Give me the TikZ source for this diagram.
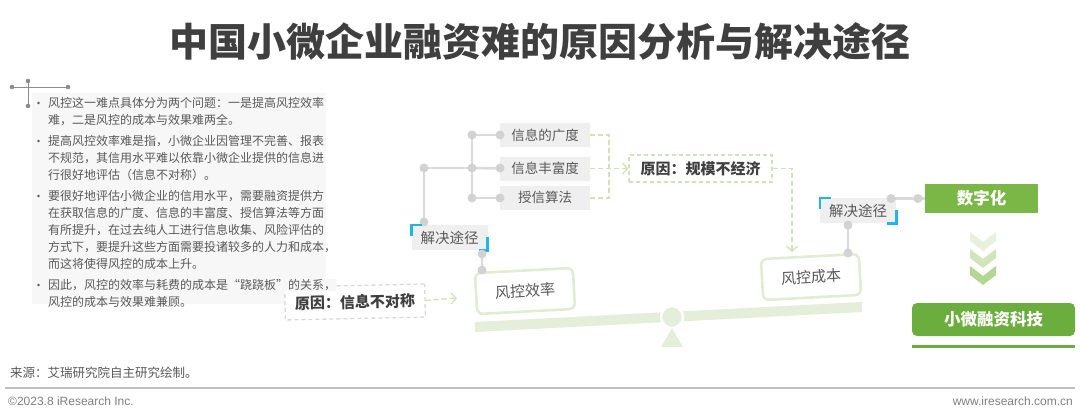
\documentclass[tikz,border=0pt]{standalone}
\usepackage{fontspec}
\setmainfont{Noto Sans CJK SC}
\newfontfamily\latinfont{Liberation Sans}
\usetikzlibrary{arrows.meta}
\definecolor{txt}{HTML}{595959}
\definecolor{ttl}{HTML}{3F3F3F}
\definecolor{panel}{HTML}{F7F7F7}
\definecolor{tline}{HTML}{DADADA}
\definecolor{tdot}{HTML}{D2D2D2}
\definecolor{tbg}{HTML}{EFEFEF}
\definecolor{cyanb}{HTML}{22B4E6}
\definecolor{beamc}{HTML}{E4EED8}
\definecolor{boxb}{HTML}{E1EDD3}
\definecolor{gdashc}{HTML}{CFE3BA}
\definecolor{graydash}{HTML}{D8D8D8}
\definecolor{greenA}{HTML}{7AB746}
\definecolor{greenB}{HTML}{6BAE3E}
\definecolor{chevA}{HTML}{E7F1DB}
\definecolor{chevB}{HTML}{D0E5B9}
\definecolor{chevC}{HTML}{B3D692}
\definecolor{foot}{HTML}{7F7F7F}
\definecolor{deco}{HTML}{8C8C8C}
\tikzset{
  para/.style={anchor=west, inner sep=0pt, text=txt, font=\fontsize{12}{12}\selectfont},
  tbox/.style={fill=tbg, minimum width=90pt, minimum height=24pt, inner sep=0pt, text=txt, font=\fontsize{13.5}{13.5}\selectfont},
  lbl/.style={fill=tbg, minimum width=76pt, minimum height=25pt, inner sep=0pt, text=txt, font=\fontsize{14.5}{14.5}\selectfont},
  treeline/.style={draw=tline, line width=2.6pt},
  bracket/.style={draw=cyanb, line width=2.6pt},
  gbox/.style={draw=boxb, line width=2.6pt, rounded corners=6pt, fill=white, minimum width=98pt, minimum height=41pt, inner sep=0pt, text=txt, font=\fontsize{15}{15}\selectfont},
  rbox/.style={draw=gdashc, dash pattern=on 4pt off 3pt, line width=1.3pt, fill=white, inner sep=0pt, text=ttl, font=\fontsize{15}{15}\selectfont\bfseries},
  gdash/.style={draw=gdashc, dash pattern=on 5pt off 3pt, line width=1.4pt},
  barb/.style={-{Straight Barb[length=5pt,width=11pt,line width=1.3pt]}},
  greenbox/.style={text=white, inner sep=0pt, font=\fontsize{16.5}{16.5}\selectfont\bfseries},
  footst/.style={inner sep=0pt, text=foot}
}
\begin{document}
\begin{tikzpicture}[x=1pt,y=-1pt]
\useasboundingbox (0,0) rectangle (1080,415);

% title
\node[inner sep=0pt, text=ttl, font=\fontsize{39}{39}\selectfont\bfseries] (title) at (540,41) {中国小微企业融资难的原因分析与解决途径};

% left panel
\fill[panel] (32,93) rectangle (326,304);
\draw[deco, line width=1pt] (12,87) -- (68,87);
\draw[deco, line width=1pt] (28,81) -- (28,106);
\foreach \p in {(12,87),(28,81),(68,87),(28,106)} \fill[deco] \p circle (2.3pt);

% reason box under the last bullet lines
\node[rbox, draw=graydash, rotate=1.2, minimum width=140pt, minimum height=33pt] (r1) at (355,302) {原因：信息不对称};
\coordinate (a1) at (457,298);
\draw[gdash, barb] (r1.east) -- (a1);

\foreach \yy in {103,141,196,285} \fill[txt] (38.5,\yy) circle (1.4pt);
\node[para] (l1) at (48,103) {风控这一难点具体分为两个问题：一是提高风控效率};
\node[para] (l2) at (48,120) {难，二是风控的成本与效果难两全。};
\node[para] (l3) at (48,141) {提高风控效率难是指，小微企业因管理不完善、报表};
\node[para] (l4) at (48,158) {不规范，其信用水平难以依靠小微企业提供的信息进};
\node[para] (l5) at (48,175) {行很好地评估（信息不对称）。};
\node[para] (l6) at (48,196) {要很好地评估小微企业的信用水平，需要融资提供方};
\node[para] (l7) at (48,213) {在获取信息的广度、信息的丰富度、授信算法等方面};
\node[para] (l8) at (48,230) {有所提升，在过去纯人工进行信息收集、风险评估的};
\node[para] (l9) at (48,247) {方式下，要提升这些方面需要投诸较多的人力和成本，};
\node[para] (l10) at (48,264) {而这将使得风控的成本上升。};
\node[para, fill=panel] (l11) at (48,285) {因此，风控的效率与耗费的成本是“跷跷板”的关系，};
\node[para] (l12) at (48,302) {风控的成本与效果难兼顾。};

% seesaw
\draw[beamc, line width=10pt] (475,327) -- (862,307);
\filldraw[fill=beamc, draw=white, line width=2.5pt] (672,317) circle (11pt);
\fill[beamc] (672,328) -- (683,347) -- (661,347) -- cycle;

% tree
\node[tbox] (b1) at (545,135) {信息的广度};
\node[tbox] (b2) at (545,168.5) {信息丰富度};
\node[tbox] (b3) at (545,197.5) {授信算法};
\node[lbl] (j1) at (449.5,237.5) {解决途径};
\coordinate (t0) at (424,222);
\coordinate (t1) at (424,168);
\coordinate (t2) at (472,168);
\coordinate (t3) at (472,135);
\coordinate (t4) at (472,198);
\draw[treeline] (t0) -- (t1) -- (t2);
\draw[treeline] (t3) -- (t4);
\draw[treeline] (t3) -- (b1.west);
\draw[treeline] (t2) -- (b2.west);
\draw[treeline] (t4) -- (b3.west |- t4);
\foreach \p in {(424,222),(424,168),(472,168),(472,135),(472,198),(500,135),(500,168),(500,198)} \fill[tdot] \p circle (4.5pt);
\draw[bracket] ([shift={(0,11)}]j1.north west) -- (j1.north west) -- ([shift={(11,0)}]j1.north west);
\draw[bracket] ([shift={(0,-13)}]j1.south east) -- (j1.south east) -- ([shift={(-9,0)}]j1.south east);

% left box
\node[gbox, rotate=3] (e1) at (525,291) {风控效率};
\coordinate (d1) at (482,254);
\coordinate (d2) at (482,270);
\draw[treeline] (d1) -- (d2);
\fill[tdot] (d1) circle (4.5pt);
\fill[tdot] (d2) circle (4.5pt);

% right box
\node[gbox, rotate=3] (e2) at (811,277) {风控成本};

% reason box 2
\node[rbox, minimum width=143pt, minimum height=27pt] (r2) at (700.5,168.5) {原因：规模不经济};
\draw[gdash] (b1.east) -- (609,135) -- (609,198) -- (b3.east |- 609,198);
\draw[gdash, barb] (b2.east) -- (r2.west);
\coordinate (a2) at (792,252);
\draw[gdash, barb] (r2.east) -- (792,168.5) -- (a2);

% right side
\node[lbl] (j2) at (858,210.5) {解决途径};
\draw[bracket] ([shift={(0,11)}]j2.north west) -- (j2.north west) -- ([shift={(11,0)}]j2.north west);
\draw[bracket] ([shift={(0,-13)}]j2.south east) -- (j2.south east) -- ([shift={(-9,0)}]j2.south east);

\node[greenbox, fill=greenA, minimum width=113pt, minimum height=29pt] (s1) at (981.5,198.5) {数字化};
\coordinate (d3) at (891,198.5);
\coordinate (d4) at (918,198.5);
\draw[treeline] (d3) -- (s1.west);
\fill[tdot] (d3) circle (4.5pt);
\fill[tdot] (d4) circle (4.5pt);
\coordinate (d5) at (848,225);
\coordinate (d6) at (848,253);
\draw[treeline] (d5) -- (d6);
\fill[tdot] (d5) circle (4.5pt);
\fill[tdot] (d6) circle (4.5pt);

% chevrons
\foreach \i/\c in {0/chevA,1/chevB,2/chevC}
  \fill[\c] (970,232+17*\i) -- (983,242+17*\i) -- (996,232+17*\i) -- (996,241+17*\i) -- (983,251+17*\i) -- (970,241+17*\i) -- cycle;

\node[greenbox, fill=greenB, rounded corners=5pt, minimum width=163pt, minimum height=33pt] (s2) at (993.5,319.5) {小微融资科技};
\draw[greenB, line width=3pt] ([yshift=-10pt]s2.south west) -- ([yshift=-10pt]s2.south east);

% footer
\node[footst, anchor=west, text=txt, font=\fontsize{12.5}{12.5}\selectfont] (src) at (10,373) {来源：艾瑞研究院自主研究绘制。};
\draw[draw=black!25, line width=1.5pt] (5,388) -- (1075,388);
\node[footst, anchor=west, font=\latinfont\fontsize{12}{12}\selectfont] (cp) at (8,401) {©2023.8 iResearch Inc.};
\node[footst, anchor=east, font=\latinfont\fontsize{12}{12}\selectfont] (url) at (1073,401) {www.iresearch.com.cn};
\end{tikzpicture}
\end{document}
